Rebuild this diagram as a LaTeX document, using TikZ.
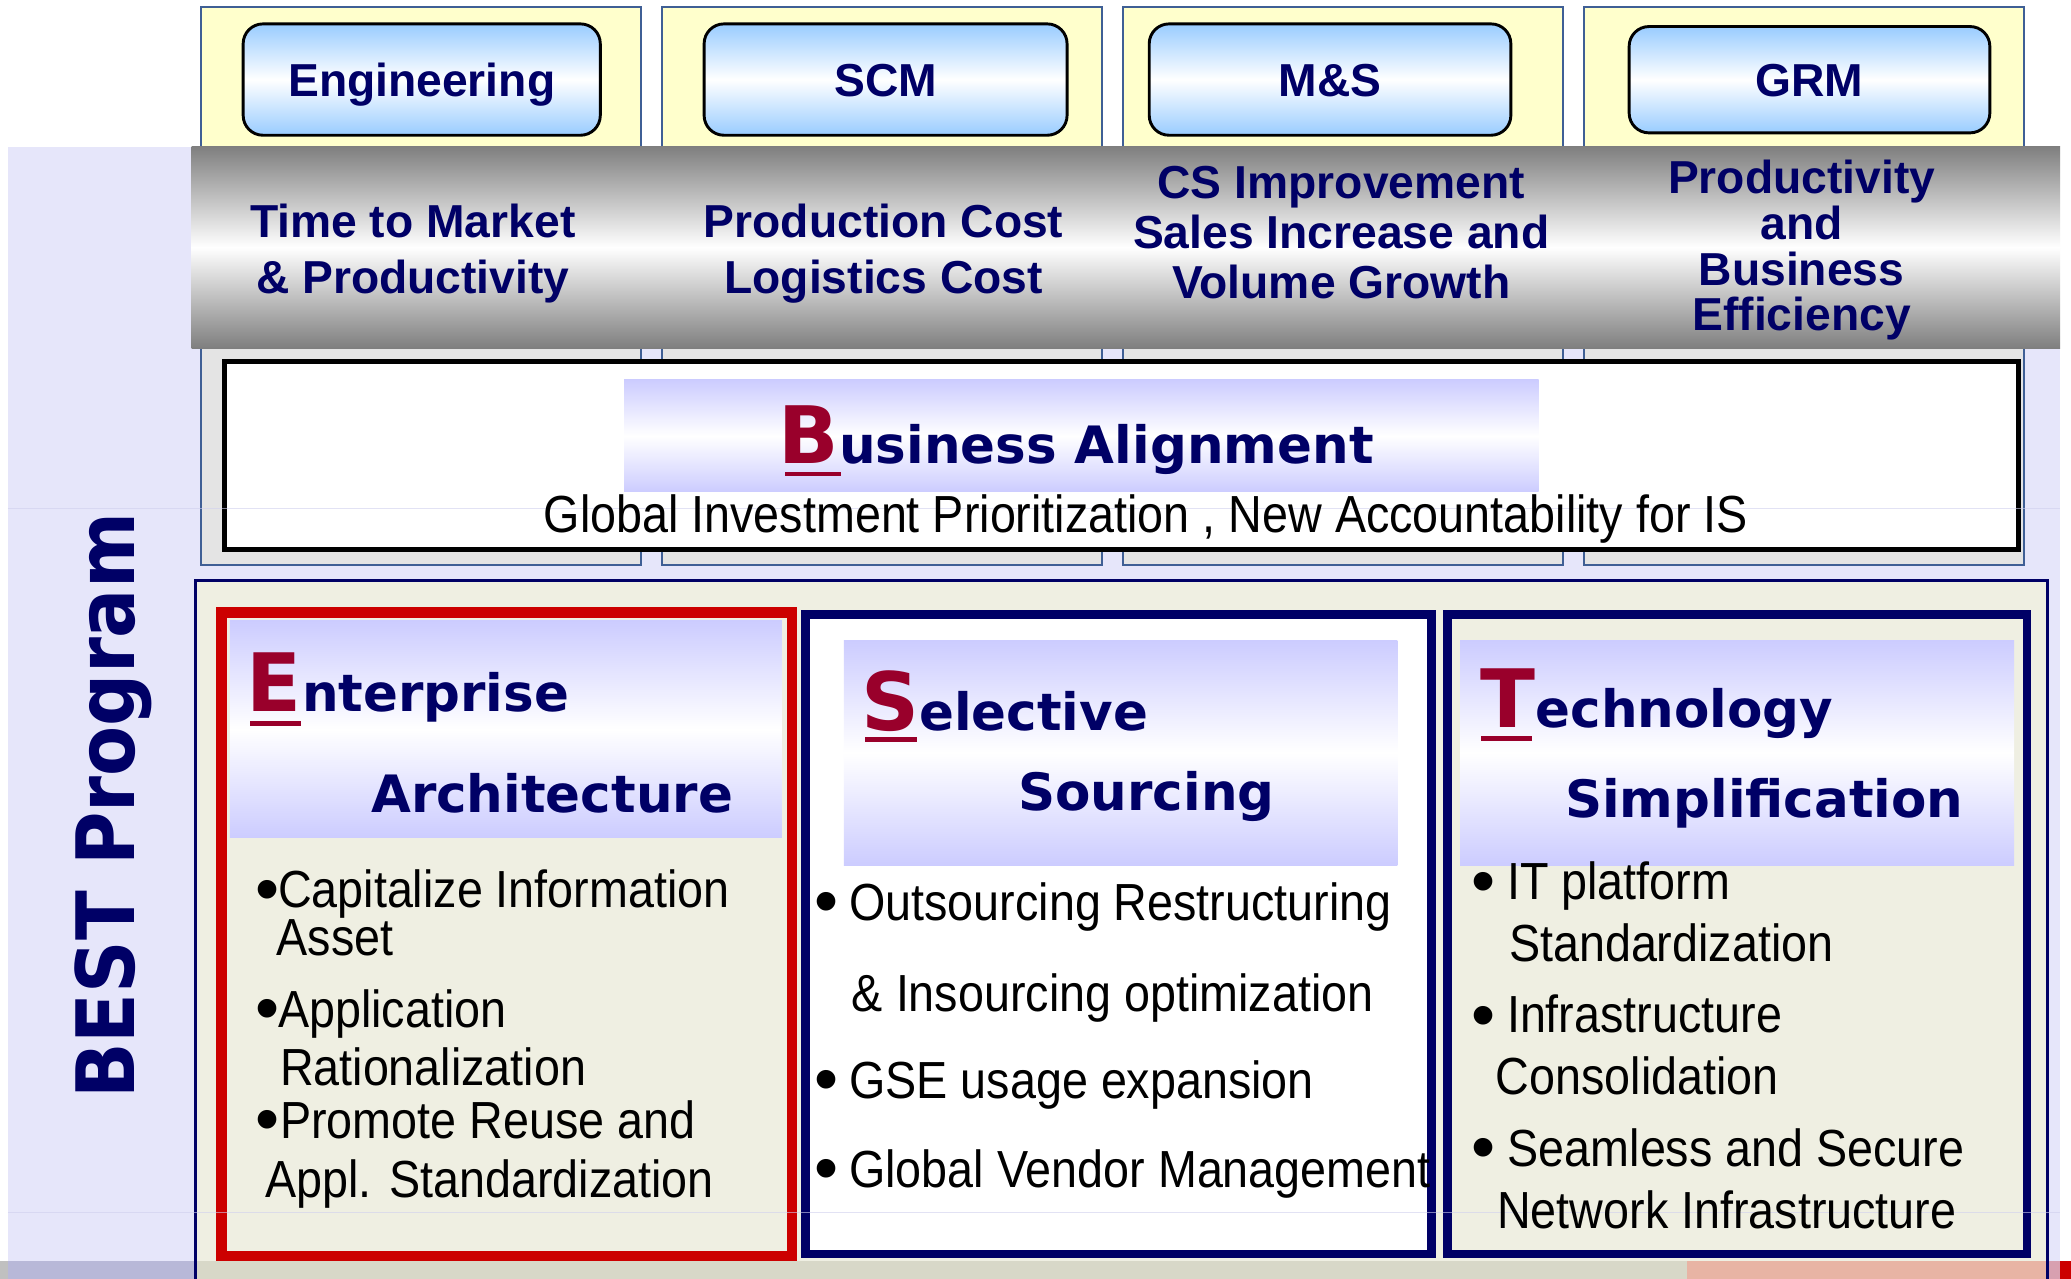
\documentclass[tikz,border=0pt]{standalone}
\usepackage{fontspec}
\setmainfont{Liberation Sans}
\newfontfamily\arialf{Liberation Sans}
\newfontfamily\narrowf{Liberation Sans}[FakeStretch=0.895]
\newfontfamily\hdf{DejaVu Sans}
\newfontfamily\bestf{DejaVu Sans}[FakeStretch=0.905]
\definecolor{cNavy}{HTML}{000066}
\definecolor{cCrim}{HTML}{99002B}
\definecolor{cLav}{HTML}{E6E6FA}
\definecolor{cLavLine}{HTML}{D0D0EE}
\definecolor{cYel}{HTML}{FFFFCC}
\definecolor{cHd}{HTML}{CCCCFF}
\definecolor{cBtn}{HTML}{99CCFF}
\definecolor{cBeige}{HTML}{EFEFE2}
\definecolor{cColGray}{HTML}{E4E4E4}
\definecolor{cColLine}{HTML}{3F5F95}
\definecolor{cRed}{HTML}{CC0000}
\definecolor{cBand}{HTML}{7F7F7F}
\definecolor{cStripA}{HTML}{B8B8D8}
\definecolor{cStripB}{HTML}{D8D8C8}
\definecolor{cStripC}{HTML}{E8B4A4}
\definecolor{cStripD}{HTML}{D8A0B0}
\definecolor{cStripE}{HTML}{C0C0C0}
\begin{document}
\begin{tikzpicture}[x=1pt,y=-1pt,
  every node/.style={inner sep=0pt, outer sep=0pt},
  bandl/.style={anchor=base, text=cNavy, font=\arialf\bfseries\fontsize{35}{40}\selectfont},
  btn/.style={draw=black, line width=2.2pt, rounded corners=15pt, top color=cBtn, bottom color=cBtn, middle color=white,
    text=cNavy, font=\arialf\bfseries\fontsize{35}{40}\selectfont, text height=25pt, text depth=0pt},
  hdl/.style={anchor=base west, text=cNavy, font=\hdf\bfseries\fontsize{39}{44}\selectfont},
  bultx/.style={anchor=base west, text=black, font=\narrowf\fontsize{39.5}{44}\selectfont},
  buldot/.style={anchor=center, text=black, font=\arialf\fontsize{52}{52}\selectfont},
  hdbox/.style={top color=cHd, bottom color=cHd, middle color=white},
  uline/.style={fill=cCrim},
]
\useasboundingbox (0,0) rectangle (1568,968);
\fill[white] (0,0) rectangle (1568,968);
% lavender slide background
\fill[cLav] (6,111) rectangle (1560,968);
% four columns
\foreach \k in {0,1,2,3} {
  \pgfmathsetmacro{\xa}{152+349*\k}
  \pgfmathsetmacro{\xb}{485.5+349*\k}
  \fill[cYel] (\xa,5.5) rectangle (\xb,111);
  \fill[cColGray] (\xa,263) rectangle (\xb,428);
  \draw[cColLine, line width=1.5pt] (\xa,5.5) rectangle (\xb,428);
}
% buttons
\node[btn, minimum width=270.4pt, minimum height=84.3pt] (eng) at (319.3,60.25) {Engineering};
\node[btn, minimum width=274.8pt, minimum height=84.3pt] (scm) at (670.5,60.25) {SCM};
\node[btn, minimum width=273.8pt, minimum height=84.3pt] (ms)  at (1007,60.25) {M\&S};
\node[btn, minimum width=273.1pt, minimum height=80.5pt] (grm) at (1370,60.35) {GRM};
% gray band
\shade[top color=cBand, bottom color=cBand, middle color=white] (145,111) rectangle (1559.7,263.5);
\node[bandl] (g1a) at (312.5,179.7) {Time to Market};
\node[bandl] (g1b) at (312.5,222) {\& Productivity};
\node[bandl] (g2a) at (669,180) {Production Cost};
\node[bandl] (g2b) at (669,222.5) {Logistics Cost};
\node[bandl] (g3a) at (1015.5,150) {CS Improvement};
\node[bandl] (g3b) at (1015.5,188) {Sales Increase and};
\node[bandl] (g3c) at (1015.5,226) {Volume Growth};
\node[bandl] (g4a) at (1364,146.5) {Productivity};
\node[bandl] (g4b) at (1364,181.7) {and};
\node[bandl] (g4c) at (1364,216.4) {Business};
\node[bandl] (g4d) at (1364,250) {Efficiency};
% Business alignment
\draw[black, line width=3.5pt, fill=white] (169.75,273.75) rectangle (1528.25,416);
\shade[hdbox] (472.5,287.7) rectangle (1165,372.3);
% outer lower box
\fill[cBeige] (148,439.5) rectangle (1550,968);
% bottom strip
\fill[cStripE] (0,955) rectangle (6,968);
\fill[cStripA] (6,955) rectangle (148,968);
\fill[cStripB] (148,955) rectangle (1277,968);
\fill[cStripC] (1277,955) rectangle (1550,968);
\fill[cStripD] (1550,955) rectangle (1560,968);
\fill[cRed] (1560,955) rectangle (1568,968);
\draw[cNavy, line width=2pt] (148,968) -- (148,439.5) -- (1550,439.5) -- (1550,968);
% Enterprise box
\draw[cRed, line width=8pt, fill=cBeige] (167.5,463.6) rectangle (599.5,951);
\shade[hdbox] (174,470) rectangle (592,634);
% Selective box
\draw[cNavy, line width=6.5pt, fill=white] (609.75,465.25) rectangle (1083.75,949.35);
\shade[hdbox] (639,485) rectangle (1058,655);
% Technology box
\draw[cNavy, line width=6.5pt, fill=cBeige] (1095.75,465.25) rectangle (1534.75,949.35);
\shade[hdbox] (1105.5,485) rectangle (1525,655);
% faint slide lines
\draw[cLavLine, line width=1pt, opacity=0.6] (6,385) -- (1560,385);
\draw[cLavLine, line width=1pt, opacity=0.6] (6,918) -- (1560,918);
% BEST program
\node[rotate=90, anchor=base, text=cNavy, font=\bestf\bfseries\fontsize{61}{61}\selectfont] (best) at (102,610) {BEST Program};
% Business Alignment title
\node[hdl] (ba) at (589.6,351) {{\color{cCrim}\fontsize{60}{60}\selectfont B}usiness Alignment};
\fill[uline] (594,357) rectangle (637,360.5);
\node[anchor=base, text=black, font=\narrowf\fontsize{39.5}{44}\selectfont] (gip) at (867.5,403) {Global Investment Prioritization , New Accountability for IS};
% Enterprise header
\node[hdl] (ea1) at (187,539) {{\color{cCrim}\fontsize{61}{61}\selectfont E}nterprise};
\fill[uline] (189.5,546) rectangle (228,549.5);
\node[hdl] (ea2) at (281,615) {Architecture};
% Selective header
\node[hdl] (ss1) at (652,553) {{\color{cCrim}\fontsize{61}{61}\selectfont S}elective};
\fill[uline] (655,558) rectangle (694.6,562);
\node[hdl] (ss2) at (771,614) {Sourcing};
% Technology header
\node[hdl] (ts1) at (1121,551) {{\color{cCrim}\fontsize{61}{61}\selectfont T}echnology};
\fill[uline] (1121,557) rectangle (1160,561);
\node[hdl] (ts2) at (1185,619) {Simplification};
% Enterprise bullets
\node[buldot] (eb1) at (202.5,678.5) {\textbullet};
\node[bultx] (et1) at (210.5,687) {Capitalize Information};
\node[bultx] (et2) at (209.5,723.5) {Asset};
\node[buldot] (eb2) at (202.5,768.5) {\textbullet};
\node[bultx] (et3) at (210.5,778) {Application};
\node[bultx] (et4) at (212,822) {Rationalization};
\node[buldot] (eb3) at (202.5,852.5) {\textbullet};
\node[bultx] (et5) at (212,862) {Promote Reuse and};
\node[bultx] (et6) at (201,907) {Appl. Standardization};
% Selective bullets
\node[buldot] (sb1) at (626,688) {\textbullet};
\node[bultx] (st1) at (643,697) {Outsourcing Restructuring};
\node[bultx] (st2) at (645,765.5) {\& Insourcing optimization};
\node[buldot] (sb2) at (626,822.5) {\textbullet};
\node[bultx] (st3) at (643,831.5) {GSE usage expansion};
\node[buldot] (sb3) at (626,890) {\textbullet};
\node[bultx] (st4) at (643,899) {Global Vendor Management};
% Technology bullets
\node[buldot] (tb1) at (1123.5,672.5) {\textbullet};
\node[bultx] (tt1) at (1141,681) {IT platform};
\node[bultx] (tt2) at (1142.5,728) {Standardization};
\node[buldot] (tb2) at (1123,774) {\textbullet};
\node[bultx] (tt3) at (1141,782) {Infrastructure};
\node[bultx] (tt4) at (1132.5,829) {Consolidation};
\node[buldot] (tb3) at (1123,874) {\textbullet};
\node[bultx] (tt5) at (1141.5,883) {Seamless and Secure};
\node[bultx] (tt6) at (1133.5,930) {Network Infrastructure};
\end{tikzpicture}
\end{document}
